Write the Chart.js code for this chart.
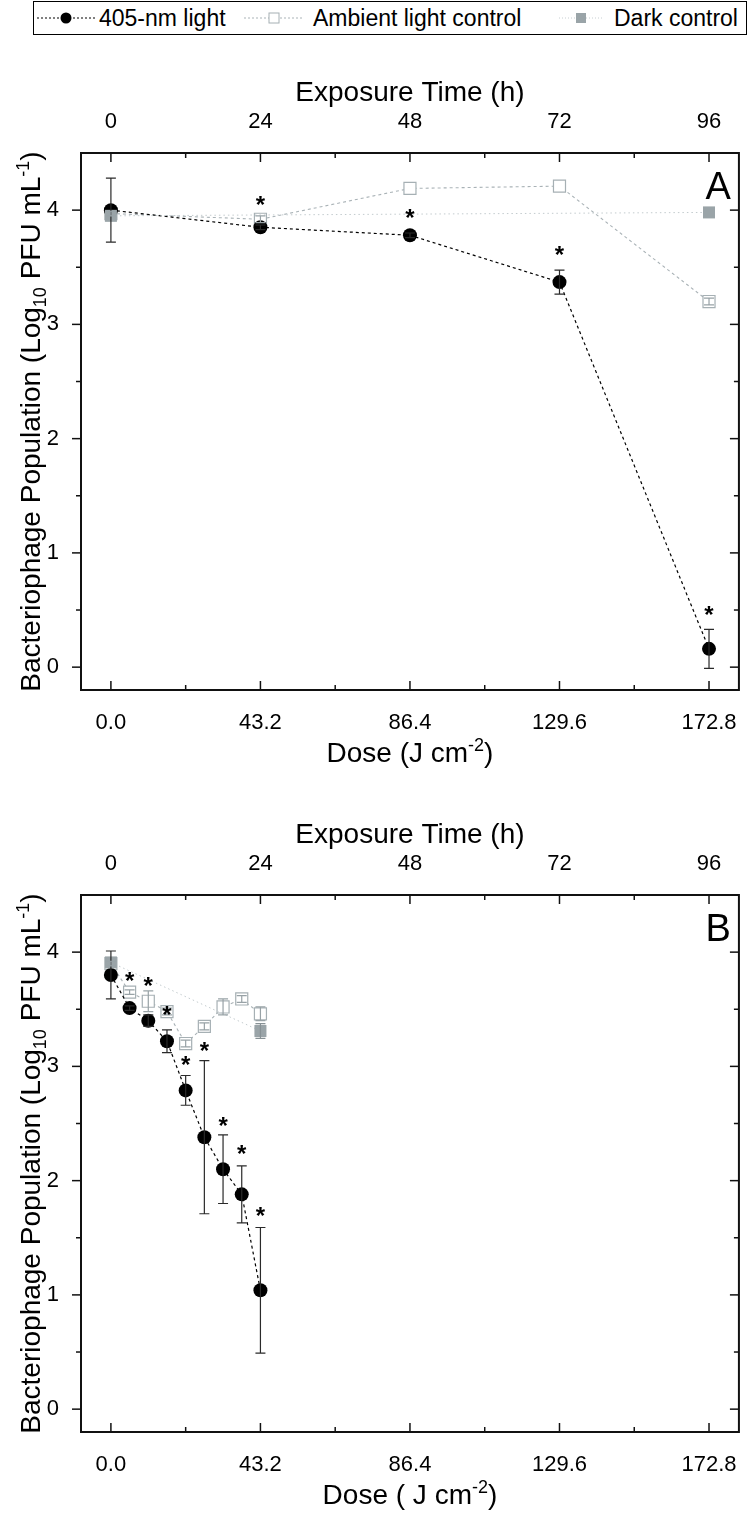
<!DOCTYPE html>
<html>
<head>
<meta charset="utf-8">
<title>Bacteriophage inactivation by 405-nm light</title>
<script src="https://cdn.jsdelivr.net/npm/chart.js@4.4.1/dist/chart.umd.min.js"></script>
<style>
  html, body { margin: 0; padding: 0; background: #fff; }
  body { position: relative; width: 749px; height: 1517px; overflow: hidden;
         font-family: 'Liberation Sans', Arial, sans-serif; }
  #legend { position: absolute; left: 33px; top: 1px; width: 712px; height: 32px;
            border: 1px solid #000; background: #fff; z-index: 2; }
  #legend svg, #legend span { position: absolute; }
  #legend svg { top: 8px; }
  #legend span { top: 5px; font-size: 23px; line-height: 23px; white-space: nowrap; color: #000; }
  canvas { position: absolute; left: 0; }
  #chartA { top: 0; }
  #chartB { top: 790px; }
</style>
</head>
<body>
<div id="legend">
  <svg style="left:3px" width="58" height="16">
    <line x1="0" y1="8" x2="58" y2="8" stroke="#000" stroke-width="1" stroke-dasharray="2 2"/>
    <circle cx="29" cy="8" r="5.5" fill="#000"/>
  </svg>
  <span style="left:65px">405-nm light</span>
  <svg style="left:210px" width="60" height="16">
    <line x1="0" y1="8" x2="60" y2="8" stroke="#aab3b7" stroke-width="1" stroke-dasharray="2 2"/>
    <rect x="25" y="3" width="10" height="10" fill="#fff" stroke="#a6b0b4" stroke-width="1"/>
  </svg>
  <span style="left:279px">Ambient light control</span>
  <svg style="left:525px" width="44" height="16">
    <line x1="0" y1="8" x2="44" y2="8" stroke="#c8cfd2" stroke-width="1" stroke-dasharray="1 2"/>
    <rect x="17" y="3" width="10" height="10" fill="#9aa4a8"/>
  </svg>
  <span style="left:580px">Dark control</span>
</div>
<canvas id="chartA" width="749" height="790"></canvas>
<canvas id="chartB" width="749" height="727"></canvas>
<script>
// axis ticks
const doseTicks = [0, 43.2, 86.4, 129.6, 172.8];
const doseTickLabels = ['0.0', '43.2', '86.4', '129.6', '172.8'];
const hourTicks = [0, 24, 48, 72, 96];
const logTicks = [0, 1, 2, 3, 4];

// panel A: 0-96 h exposure
const doseA = [0, 43.2, 86.4, 129.6, 172.8];
const lightA = [4.00, 3.85, 3.78, 3.37, 0.16];
const lightErrA = [0.28, 0.02, 0.02, 0.105, 0.17];
const ambientA = [3.97, 3.92, 4.19, 4.21, 3.20];
const ambientErrA = [0.02, 0.03, 0, 0, 0.03];
const darkDoseA = [0, 172.8];
const darkA = [3.95, 3.98];
const darkErrA = [0, 0];
const starDoseA = [43.2, 86.4, 129.6, 172.8];
const starA = [4.08, 3.97, 3.65, 0.50];

// panel B: 0-24 h exposure, sampled every 3 h
const doseB = [0, 5.4, 10.8, 16.2, 21.6, 27, 32.4, 37.8, 43.2];
const lightB = [3.80, 3.51, 3.40, 3.22, 2.79, 2.38, 2.10, 1.88, 1.04];
const lightErrB = [0.21, 0.02, 0.05, 0.10, 0.13, 0.67, 0.30, 0.25, 0.55];
const ambientB = [3.90, 3.65, 3.57, 3.48, 3.20, 3.35, 3.52, 3.59, 3.46];
const ambientErrB = [0.02, 0.02, 0.09, 0.03, 0.03, 0.03, 0.07, 0.03, 0.06];
const darkDoseB = [0, 43.2];
const darkB = [3.91, 3.31];
const darkErrB = [0, 0.065];
const starDoseB = [5.4, 10.8, 16.2, 21.6, 27, 32.4, 37.8, 43.2];
const starB = [3.79, 3.74, 3.49, 3.05, 3.17, 2.52, 2.27, 1.73];

const FONT = "'Liberation Sans', Arial, sans-serif";
const TICK_FONT = { family: FONT, size: 22 };

const pts = (xs, ys) => xs.map((x, i) => ({ x: x, y: ys[i] }));
const mids = t => t.slice(1).map((v, i) => (v + t[i]) / 2);

// text with super/subscripts, centred on (x, y); shift 1 = sup, -1 = sub
function drawRich(ctx, parts, x, y, size, vertical) {
    const small = Math.round(size * 0.65);
    const fontOf = s => `${s ? small : size}px ${FONT}`;
    let w = 0;
    parts.forEach(([t, s]) => { ctx.font = fontOf(s); w += ctx.measureText(t).width; });
    ctx.save();
    ctx.translate(x, y);
    if (vertical) ctx.rotate(-Math.PI / 2);
    ctx.fillStyle = '#000';
    ctx.textAlign = 'left';
    ctx.textBaseline = 'alphabetic';
    let cx = -w / 2;
    const base = size * 0.36;
    parts.forEach(([t, s]) => {
        ctx.font = fontOf(s);
        const dy = s > 0 ? -size * 0.38 : s < 0 ? size * 0.2 : 0;
        ctx.fillText(t, cx, base + dy);
        cx += ctx.measureText(t).width;
    });
    ctx.restore();
}

function deco(p) {
    return {
        id: 'deco',
        afterDatasetsDraw(chart) {
            const { ctx, chartArea: a, scales } = chart;
            const xs = scales.x, ys = scales.y, xh = scales.x2;
            ctx.save();

            // error bars on top of the markers
            chart.data.datasets.forEach((ds, i) => {
                const meta = chart.getDatasetMeta(i);
                ctx.strokeStyle = ds.errColor;
                ctx.lineWidth = 1.2;
                meta.data.forEach((el, j) => {
                    const e = ds.errs[j];
                    if (!e) return;
                    const v = ds.data[j].y;
                    const y1 = ys.getPixelForValue(v + e), y2 = ys.getPixelForValue(v - e);
                    ctx.beginPath();
                    ctx.moveTo(el.x, y1); ctx.lineTo(el.x, y2);
                    ctx.moveTo(el.x - 5, y1); ctx.lineTo(el.x + 5, y1);
                    ctx.moveTo(el.x - 5, y2); ctx.lineTo(el.x + 5, y2);
                    ctx.stroke();
                });
            });

            // significance asterisks
            ctx.fillStyle = '#000';
            ctx.font = `bold 24px ${FONT}`;
            ctx.textAlign = 'center';
            ctx.textBaseline = 'alphabetic';
            const m = ctx.measureText('*');
            const off = (m.actualBoundingBoxAscent - m.actualBoundingBoxDescent) / 2;
            p.starDose.forEach((d, i) => {
                ctx.fillText('*', xs.getPixelForValue(d), ys.getPixelForValue(p.star[i]) + off);
            });

            // frame and tick marks
            ctx.strokeStyle = '#111';
            ctx.lineWidth = 2;
            ctx.strokeRect(a.left, a.top, a.right - a.left, a.bottom - a.top);
            ctx.lineWidth = 1.5;
            const seg = (x1, y1, x2, y2) => { ctx.beginPath(); ctx.moveTo(x1, y1); ctx.lineTo(x2, y2); ctx.stroke(); };
            const yTick = (v, len) => {
                const y = ys.getPixelForValue(v);
                seg(a.left - len, y, a.left, y);
                seg(a.right, y, a.right - len, y);
            };
            logTicks.forEach(v => yTick(v, 9));
            mids(logTicks).forEach(v => yTick(v, 5));
            doseTicks.forEach(v => { const x = xs.getPixelForValue(v); seg(x, a.bottom, x, a.bottom - 9); });
            mids(doseTicks).forEach(v => { const x = xs.getPixelForValue(v); seg(x, a.bottom, x, a.bottom - 5); });
            hourTicks.forEach(v => { const x = xh.getPixelForValue(v); seg(x, a.top, x, a.top + 9); });
            mids(hourTicks).forEach(v => { const x = xh.getPixelForValue(v); seg(x, a.top, x, a.top + 5); });
            ctx.restore();
        },
        afterDraw(chart) {
            const { ctx, chartArea: a } = chart;
            const cx = (a.left + a.right) / 2;
            drawRich(ctx, [['Exposure Time (h)', 0]], cx, a.top - 62, 28);
            drawRich(ctx, p.doseTitle, cx, a.bottom + 62, 28);
            drawRich(ctx, [['Bacteriophage Population (Log', 0], ['10', -1], [' PFU mL', 0], ['-1', 1], [')', 0]],
                30, (a.top + a.bottom) / 2, 28, true);
            ctx.save();
            ctx.font = `38px ${FONT}`;
            ctx.fillStyle = '#000';
            ctx.textAlign = 'right';
            ctx.textBaseline = 'middle';
            ctx.fillText(p.letter, a.right - 8, a.top + 36);
            ctx.restore();
        }
    };
}

function panel(id, p) {
    return new Chart(document.getElementById(id), {
        type: 'line',
        data: {
            datasets: [
                {
                    label: 'Dark control',
                    data: pts(p.darkDose, p.dark), errs: p.darkErr, errColor: '#879195',
                    order: 1,
                    borderColor: '#c3cbce', borderWidth: 1, borderDash: [1.5, 3],
                    pointStyle: 'rect', pointRadius: 8.5, pointBorderWidth: 0,
                    pointBackgroundColor: '#9aa4a8', pointBorderColor: '#9aa4a8'
                },
                {
                    label: '405-nm light',
                    data: pts(p.dose, p.light), errs: p.lightErr, errColor: '#2a2a2a',
                    order: 2,
                    borderColor: '#000', borderWidth: 1.2, borderDash: [3, 3],
                    pointStyle: 'circle', pointRadius: 7, pointBorderWidth: 0,
                    pointBackgroundColor: '#000', pointBorderColor: '#000'
                },
                {
                    label: 'Ambient light control',
                    data: pts(p.dose, p.ambient), errs: p.ambientErr, errColor: '#98a2a6',
                    order: 3,
                    borderColor: '#a9b2b6', borderWidth: 1.1, borderDash: [3, 3],
                    pointStyle: 'rect', pointRadius: 8.5, pointBorderWidth: 1.2,
                    pointBackgroundColor: '#fff', pointBorderColor: '#a6b0b4'
                }
            ]
        },
        options: {
            responsive: false,
            animation: false,
            devicePixelRatio: 1,
            layout: { padding: { top: 0, right: 2, bottom: 0, left: 0 } },
            plugins: { legend: { display: false }, tooltip: { enabled: false } },
            scales: {
                x: {
                    type: 'linear', position: 'bottom', min: -8.64, max: 181.44,
                    grid: { display: false }, border: { display: false },
                    afterBuildTicks: s => { s.ticks = doseTicks.map(v => ({ value: v })); },
                    afterFit: s => { s.height = p.bottomH; },
                    ticks: {
                        callback: (v, i) => doseTickLabels[i],
                        autoSkip: false, maxRotation: 0, padding: 12,
                        color: '#000', font: TICK_FONT
                    }
                },
                x2: {
                    type: 'linear', position: 'top', min: -4.8, max: 100.8,
                    grid: { display: false }, border: { display: false },
                    afterBuildTicks: s => { s.ticks = hourTicks.map(v => ({ value: v })); },
                    afterFit: s => { s.height = p.topH; },
                    ticks: {
                        callback: v => String(v),
                        autoSkip: false, maxRotation: 0, padding: 10,
                        color: '#000', font: TICK_FONT
                    }
                },
                y: {
                    type: 'linear', position: 'left', min: -0.2, max: 4.5,
                    grid: { display: false }, border: { display: false },
                    afterBuildTicks: s => { s.ticks = logTicks.map(v => ({ value: v })); },
                    afterFit: s => { s.width = 81; },
                    ticks: {
                        callback: v => String(v),
                        autoSkip: false, padding: 14,
                        color: '#000', font: TICK_FONT
                    }
                }
            }
        },
        plugins: [deco(p)]
    });
}

panel('chartA', {
    dose: doseA, light: lightA, lightErr: lightErrA,
    ambient: ambientA, ambientErr: ambientErrA,
    darkDose: darkDoseA, dark: darkA, darkErr: darkErrA,
    starDose: starDoseA, star: starA,
    letter: 'A', topH: 153, bottomH: 100,
    doseTitle: [['Dose (J cm', 0], ['-2', 1], [')', 0]]
});

panel('chartB', {
    dose: doseB, light: lightB, lightErr: lightErrB,
    ambient: ambientB, ambientErr: ambientErrB,
    darkDose: darkDoseB, dark: darkB, darkErr: darkErrB,
    starDose: starDoseB, star: starB,
    letter: 'B', topH: 105, bottomH: 85,
    doseTitle: [['Dose ( J cm', 0], ['-2', 1], [')', 0]]
});
</script>
</body>
</html>
